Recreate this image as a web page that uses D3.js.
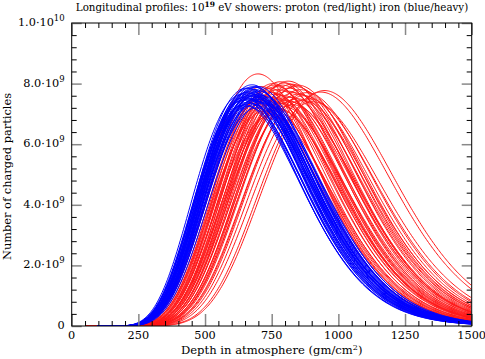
<!DOCTYPE html>
<html><head><meta charset="utf-8">
<script src="https://cdn.jsdelivr.net/npm/d3@7"></script>
<style>
body{margin:0;background:#fff}
text{font-family:"DejaVu Serif",serif;fill:#000}
</style></head>
<body><svg id="c" width="485" height="359"></svg>
<script>
// ---- data ----
// proton showers: depth of maximum (g/cm^2) and maximum size (units of 1e9)
const protonXmax = [699,705,712,720,725,728,730,735,740,745,748,752,755,760,760,763,767,770,775,775,778,782,786,790,792,795,800,805,810,812,815,818,820,825,830,835,840,845,848,850,858,865,872,880,890,905,935,948];
const protonNmax = [8.32,7.45,7.9,7.6,7.1,7.45,7.75,7.3,7.85,7.55,6.95,7.7,8.0,7.4,7.95,7.65,7.9,7.2,7.8,7.15,7.5,8.06,7.35,7.95,7.25,7.6,8.02,7.45,7.75,8.08,7.85,7.4,7.55,7.98,7.3,7.7,7.9,7.5,7.95,7.65,7.8,7.45,7.6,7.7,7.5,7.4,7.72,7.77];
// iron showers
const ironXmax = [676,665,680,690,670,655,685,695,660,675,700,650,665,690,680,705,645,670,685,660,695,675,655,700,710,640,668,682,692,658,648,672,688,702,715,662,678,698,652,686];
const ironNmax = [7.96,7.85,7.9,7.8,7.75,7.7,7.7,7.65,7.6,7.6,7.55,7.55,7.5,7.5,7.45,7.4,7.45,7.35,7.3,7.25,7.2,7.8,7.85,7.75,7.6,7.65,7.68,7.58,7.42,7.38,7.3,7.5,7.62,7.48,7.35,7.72,7.65,7.9,7.5,7.88];
const profileX0 = 100, profileLambda = 72;      // Gaisser-Hillas shape parameters
const protonStart = 50, ironStart = 95;          // first plotted depth
const xTicks = [0,250,500,750,1000,1250,1500];
const yTicks = [0,2e9,4e9,6e9,8e9,1e10];
const yTickMant = ["0","2.0·10","4.0·10","6.0·10","8.0·10","1.0·10"];
const yTickExp  = ["","9","9","9","9","10"];
const titleMain = "Longitudinal profiles: 10", titleExp = "19", titleRest = " eV showers: proton (red/light) iron (blue/heavy)";

// ---- layout ----
const svg = d3.select("#c");
const L = 71.7, R = 471.7, T = 23, B = 326;
const x = d3.scaleLinear().domain([0,1500]).range([L,R]);
const y = d3.scaleLinear().domain([0,1e10]).range([B,T]);

svg.append("clipPath").attr("id","clip").append("rect")
  .attr("x",L).attr("y",T).attr("width",R-L).attr("height",B-T);

function gh(X, xmax, nmax){
  if (X <= profileX0) return 0;
  const n = (xmax - profileX0)/profileLambda;
  const u = (X - profileX0)/(xmax - profileX0);
  return nmax*1e9*Math.exp(n*(Math.log(u) + 1 - u));
}
function profile(xmax, nmax, start){
  const pts = [];
  for (let X = start; X <= 1500; X += 4) pts.push([X, gh(X, xmax, nmax)]);
  return pts;
}
const line = d3.line().x(d=>x(d[0])).y(d=>y(d[1]));
const g = svg.append("g").attr("clip-path","url(#clip)");
protonXmax.forEach((xm,i)=>{
  g.append("path").attr("d", line(profile(xm, protonNmax[i], protonStart)))
   .attr("fill","none").attr("stroke","#ff1a1a").attr("stroke-width",1);
});
ironXmax.forEach((xm,i)=>{
  g.append("path").attr("d", line(profile(xm, ironNmax[i], ironStart)))
   .attr("fill","none").attr("stroke","#0000ff").attr("stroke-width",1);
});

// ---- axes: ticks inward on all four sides ----
const xMinor = d3.range(0,1501,50).filter(v=>v%250!==0);
const yMinor = d3.range(0,1e10+1,4e8).filter(v=>Math.round(v/1e8)%20!==0);
function ticks(axis, vals, size, color, width){
  const a = svg.append("g").call(axis.tickValues(vals).tickSize(size).tickFormat(""));
  a.select(".domain").remove();
  a.selectAll(".tick line").attr("stroke",color).attr("stroke-width",width);
  return a;
}
[[d3.axisBottom(x), `translate(0,${B})`], [d3.axisTop(x), `translate(0,${T})`]].forEach(([ax,tr])=>{
  ticks(ax, xMinor, -5, "#000", 1).attr("transform",tr);
});
ticks(d3.axisBottom(x), xTicks, -12, "#888", 1.5).attr("transform",`translate(0,${B})`);
ticks(d3.axisTop(x), xTicks, -12, "#888", 1.5).attr("transform",`translate(0,${T})`);
ticks(d3.axisLeft(y), yMinor, -5, "#000", 1).attr("transform",`translate(${L},0)`);
ticks(d3.axisRight(y), yMinor, -5, "#000", 1).attr("transform",`translate(${R},0)`);
ticks(d3.axisLeft(y), yTicks, -10, "#888", 1.5).attr("transform",`translate(${L},0)`);
ticks(d3.axisRight(y), yTicks, -10, "#888", 1.5).attr("transform",`translate(${R},0)`);
svg.append("rect").attr("x",L).attr("y",T).attr("width",R-L).attr("height",B-T)
  .attr("fill","none").attr("stroke","#000").attr("stroke-width",1);

// tick labels
svg.append("g").selectAll("text").data(xTicks).join("text")
  .attr("x",d=>x(d)).attr("y",B+13).attr("text-anchor","middle")
  .attr("font-size",11.3).text(d=>d);
const yl = svg.append("g").selectAll("text").data(yTicks).join("text")
  .attr("x",L-7).attr("y",d=>y(d)+3).attr("text-anchor","end").attr("font-size",11.3);
yl.each(function(d,i){
  const t = d3.select(this);
  t.append("tspan").text(yTickMant[i]);
  if (yTickExp[i]) t.append("tspan").attr("dy",-5).attr("font-size",8.5).text(yTickExp[i]);
});

// axis titles
const xt = svg.append("text").attr("x",(L+R)/2).attr("y",354).attr("text-anchor","middle").attr("font-size",11.6);
xt.append("tspan").text("Depth in atmosphere (gm/cm");
xt.append("tspan").attr("dy",-4).attr("font-size",8).text("2");
xt.append("tspan").attr("dy",4).text(")");
svg.append("text").attr("transform",`translate(11,${(T+B)/2+2}) rotate(-90)`)
  .attr("text-anchor","middle").attr("font-size",11.4).text("Number of charged particles");
const tt = svg.append("text").attr("x",272).attr("y",11).attr("text-anchor","middle").attr("font-size",10.3);
tt.append("tspan").text(titleMain);
tt.append("tspan").attr("dy",-4).attr("font-size",7.5).attr("font-weight","bold").text(titleExp);
tt.append("tspan").attr("dy",4).text(titleRest);
</script></body></html>
